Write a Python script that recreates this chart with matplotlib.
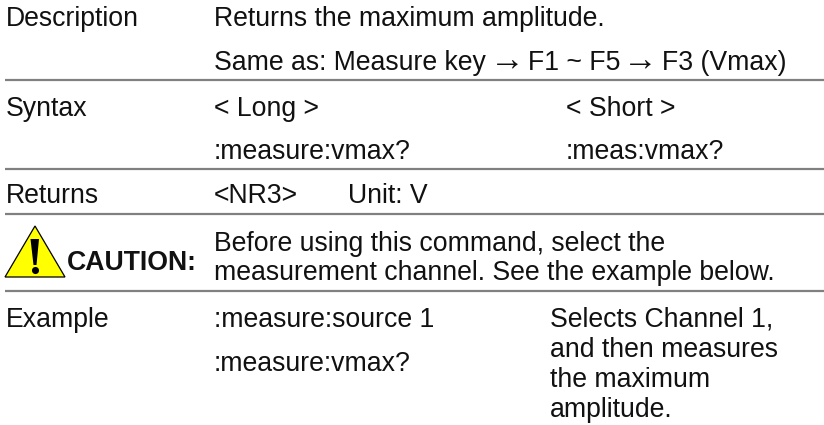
import matplotlib
matplotlib.use("Agg")
import matplotlib.pyplot as plt
from matplotlib.patches import Polygon

plt.rcParams["font.family"] = ["Liberation Sans", "DejaVu Sans"]

# (x, baseline y, text)
labels = [
    (6, 25.7, "Description"),
    (6, 115.7, "Syntax"),
    (6, 203, "Returns"),
    (6, 327, "Example"),
]
cells = [
    (214, 25.7, "Returns the maximum amplitude."),
    (214, 70, "Same as: Measure key"),
    (528, 70, "F1 ~ F5"),
    (662, 70, "F3 (Vmax)"),
    (214, 115.7, "< Long >"),
    (566, 115.7, "< Short >"),
    (214, 159.3, ":measure:vmax?"),
    (566, 159.3, ":meas:vmax?"),
    (214, 203, "<NR3>"),
    (348, 203, "Unit: V"),
    (214, 251, "Before using this command, select the"),
    (214, 280, "measurement channel. See the example below."),
    (214, 327, ":measure:source 1"),
    (214, 371, ":measure:vmax?"),
    (550, 327, "Selects Channel 1,"),
    (550, 357, "and then measures"),
    (550, 387, "the maximum"),
    (550, 417, "amplitude."),
]
arrow_xs = [495, 628]
rule_ys = [80, 169, 213.5, 291]
font_px = 26.6

fig = plt.figure(figsize=(8.24, 4.25), dpi=100)
ax = fig.add_axes([0, 0, 1, 1])
ax.set_xlim(0, 824)
ax.set_ylim(425, 0)
ax.axis("off")

fs = font_px * 72 / 100
for x, y, s in labels + cells:
    ax.text(x, y, s, fontsize=fs, va="baseline", ha="left", color="#111111")

# the arrows in the original are wider than the normal glyph
for x in arrow_xs:
    ax.text(x - 5, 71, "\u2192", fontsize=fs * 1.3,
            va="baseline", ha="left", color="#111111")

for y in rule_ys:
    ax.plot([5, 824], [y, y], color="#808080", lw=1.6, solid_capstyle="butt")

# caution sign
ax.add_patch(Polygon([(35, 226), (5, 277), (65, 277)], closed=True,
                     facecolor="#ffff00", edgecolor="black", lw=0.9, joinstyle="miter"))
ax.add_patch(Polygon([(30.5, 239), (39, 239), (36.5, 265), (33.5, 265)], closed=True,
                     facecolor="black", edgecolor="none"))
ax.scatter([35], [270], s=26, color="black", linewidths=0)
ax.text(67, 270, "CAUTION:", fontsize=fs, fontweight="bold", va="baseline", ha="left", color="#111111")

fig.savefig("out.png", dpi=100)
